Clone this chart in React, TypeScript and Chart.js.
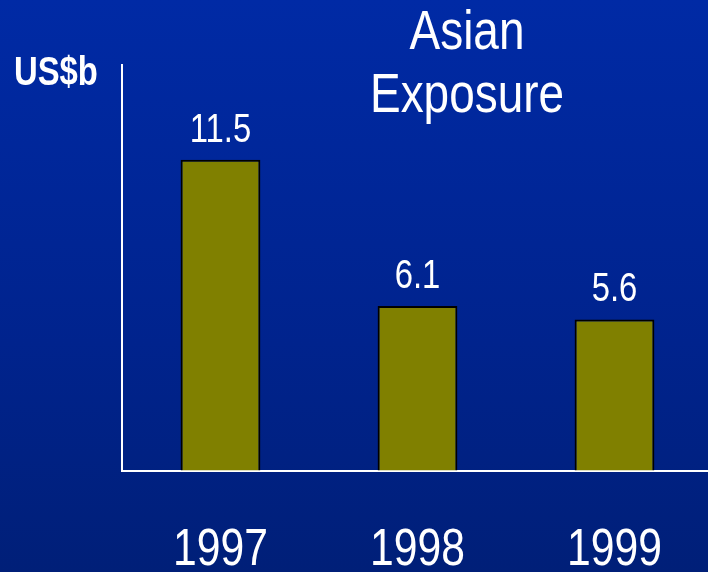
import React, { useEffect, useRef } from "react";
import { Chart, registerables } from "chart.js";

Chart.register(...registerables);

const categories: string[] = ["1997", "1998", "1999"];
const exposure: number[] = [11.5, 6.1, 5.6];
const valueLabels: string[] = ["11.5", "6.1", "5.6"];
const titleLines: string[] = ["Asian", "Exposure"];
const unitLabel = "US$b";
const yMax = 15;

const FONT = "'Liberation Sans', Arial, sans-serif";
const NARROW = 0.82;

function drawNarrow(
  ctx: CanvasRenderingContext2D,
  text: string,
  x: number,
  y: number,
  size: number,
  bold: boolean,
  align: CanvasTextAlign
) {
  ctx.save();
  ctx.translate(x, y);
  ctx.scale(NARROW, 1);
  ctx.font = `${bold ? "bold " : ""}${size}px ${FONT}`;
  ctx.textAlign = align;
  ctx.textBaseline = "alphabetic";
  ctx.fillStyle = "#ffffff";
  ctx.fillText(text, 0, 0);
  ctx.restore();
}

const overlayPlugin = {
  id: "overlay",
  afterDraw(chart: any) {
    const ctx = chart.ctx as CanvasRenderingContext2D;
    // value labels above bars
    const meta = chart.getDatasetMeta(0);
    meta.data.forEach((bar: any, i: number) => {
      drawNarrow(ctx, valueLabels[i], bar.x, bar.y - 18, 40, false, "center");
    });
    // category labels via the x scale
    const xs = chart.scales.x;
    categories.forEach((c, i) => {
      drawNarrow(ctx, c, xs.getPixelForValue(i), 565, 52, false, "center");
    });
    // title
    drawNarrow(ctx, titleLines[0], 467, 49, 56, false, "center");
    drawNarrow(ctx, titleLines[1], 467, 112, 56, false, "center");
    // unit label
    drawNarrow(ctx, unitLabel, 14, 85, 40, true, "left");
  },
};

export default function App() {
  const ref = useRef<HTMLCanvasElement | null>(null);
  useEffect(() => {
    document.body.style.margin = "0";
    document.body.style.overflow = "hidden";
    const canvas = ref.current!;
    const chart = new Chart(canvas, {
      type: "bar",
      data: {
        labels: categories,
        datasets: [
          {
            data: exposure,
            backgroundColor: "#808000",
            borderColor: "#000000",
            borderWidth: 2,
            barPercentage: 0.405,
            categoryPercentage: 1,
          },
        ],
      },
      options: {
        responsive: false,
        animation: false,
        layout: { padding: { left: 122, top: 65, right: 3, bottom: 0 } },
        plugins: { legend: { display: false }, tooltip: { enabled: false }, title: { display: false } },
        scales: {
          x: {
            grid: { color: "transparent", drawTicks: false },
            border: { display: true, color: "#ffffff", width: 2 },
            ticks: { display: false },
            afterFit: (s: any) => {
              s.height = 101;
            },
          },
          y: {
            min: 0,
            max: yMax,
            grid: { color: "transparent", drawTicks: false },
            border: { display: true, color: "#ffffff", width: 2 },
            ticks: { display: false },
            afterFit: (s: any) => {
              s.width = 0;
            },
          },
        },
      },
      plugins: [overlayPlugin],
    });
    return () => chart.destroy();
  }, []);
  return (
    <div
      style={{
        position: "fixed",
        left: 0,
        top: 0,
        width: 708,
        height: 572,
        overflow: "hidden",
        background: "linear-gradient(to bottom, #002aa5 0%, #00238d 60%, #001f78 100%)",
      }}
    >
      <canvas ref={ref} width={716} height={572} style={{ width: 716, height: 572, display: "block" }} />
    </div>
  );
}
